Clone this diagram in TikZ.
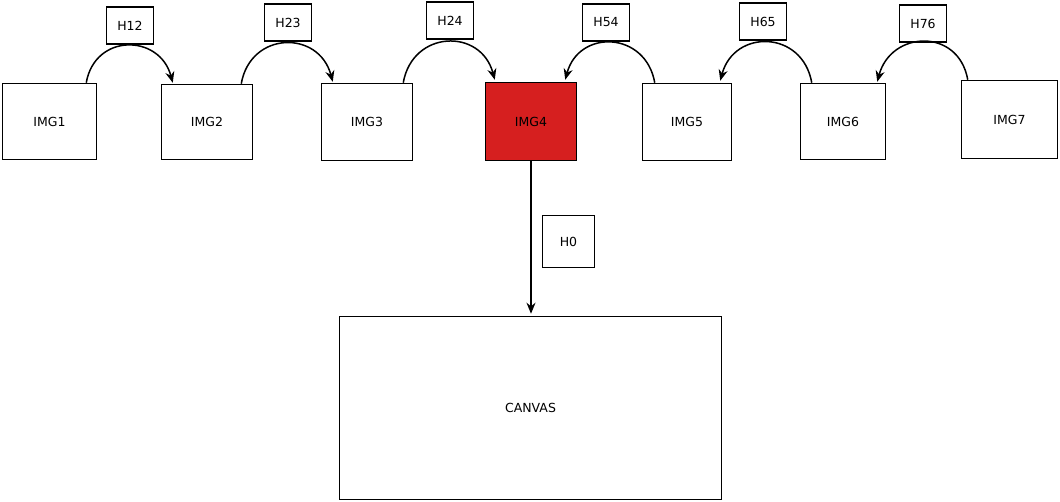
\documentclass[tikz,border=0pt]{standalone}
\usepackage{fontspec}
\setmainfont{DejaVu Sans}
\usetikzlibrary{arrows.meta}
\definecolor{imgred}{RGB}{214,31,31}

\begin{document}
\begin{tikzpicture}[x=1pt, y=-1pt, line width=1.5pt,
        >={Stealth[length=11pt, width=9pt, inset=3.5pt]},
        img/.style={rectangle, draw, inner sep=0pt, font=\fontsize{12.5}{14}\selectfont},
        hom/.style={rectangle, draw, inner sep=0pt, minimum width=47pt, minimum height=37pt, font=\fontsize{12.5}{14}\selectfont}]
        \useasboundingbox (0,0) rectangle (1060,502);
        \node[img, minimum width=94pt, minimum height=76pt] (img1) at (49.5,121.5) {IMG1};
        \node[img, minimum width=91pt, minimum height=75pt] (img2) at (207,122) {IMG2};
        \node[img, minimum width=91pt, minimum height=77pt] (img3) at (367,122) {IMG3};
        \node[img, minimum width=91pt, minimum height=78pt, fill=imgred] (img4) at (531,121.5) {IMG4};
        \node[img, minimum width=89pt, minimum height=77pt] (img5) at (687,122) {IMG5};
        \node[img, minimum width=85pt, minimum height=76pt] (img6) at (843,121.5) {IMG6};
        \node[img, minimum width=96pt, minimum height=78pt] (img7) at (1009.5,119.5) {IMG7};
        \node[img, minimum width=382pt, minimum height=183pt] (canvas) at (530.5,408) {CANVAS};
        \node[hom, minimum width=52pt, minimum height=52pt] (h0) at (568.5,241.5) {H0};
        \node[hom] (h12) at (130,25.5) {H12};
        \node[hom] (h23) at (288,22.5) {H23};
        \node[hom] (h24) at (450,20.5) {H24};
        \node[hom] (h54) at (606,22.5) {H54};
        \node[hom] (h65) at (763,21.5) {H65};
        \node[hom] (h76) at (923,23.5) {H76};
        % homographies towards the reference image
        \draw[->] ([xshift=-11pt]img1.north east) to[out=80, in=105, looseness=1.5] ([xshift=12pt, yshift=1pt]img2.north west);
        \draw[->] ([xshift=-12pt]img2.north east) to[out=80, in=105, looseness=1.5] ([xshift=12pt, yshift=1pt]img3.north west);
        \draw[->] ([xshift=-10pt]img3.north east) to[out=80, in=105, looseness=1.5] ([xshift=10pt, yshift=2pt]img4.north west);
        \draw[->] ([xshift=13pt]img5.north west) to[out=100, in=75, looseness=1.5] ([xshift=-12pt, yshift=2pt]img4.north east);
        \draw[->] ([xshift=12pt]img6.north west) to[out=100, in=75, looseness=1.5] ([xshift=-12pt, yshift=2pt]img5.north east);
        \draw[->] ([xshift=7pt]img7.north west) to[out=100, in=75, looseness=1.5] ([xshift=-9pt, yshift=1pt]img6.north east);
        \draw[->] (img4.south) -- ([yshift=2pt]img4.south |- canvas.north);
\end{tikzpicture}
\end{document}
